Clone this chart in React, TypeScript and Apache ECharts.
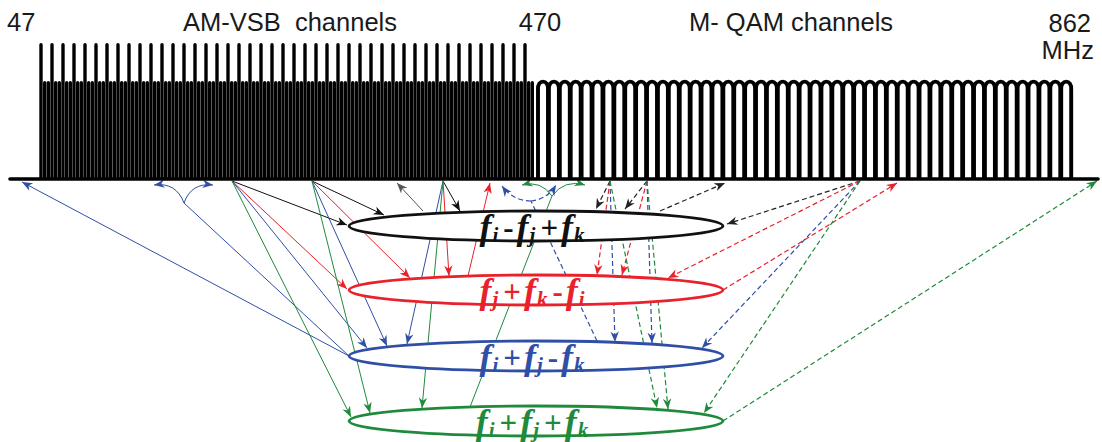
import React, { useEffect, useRef } from 'react';
import * as echarts from 'echarts';

// ---------- data (diagram coordinates, x: 0..1102, y: 0..442 from top) ----------
const AXIS_Y = 179;
const axisSpan = [10, 1098];

// AM-VSB channel carriers (tall video carrier, two shorter side carriers)
const amChannelX = [41, 52, 63, 74, 85, 96, 107, 118, 129, 140, 151, 162, 173, 184, 195, 206, 217, 228, 239, 250,
  261, 272, 283, 294, 305, 316, 327, 338, 349, 360, 371, 382, 393, 404, 415, 426, 437, 448, 459, 470,
  481, 492, 503, 514, 525];
const amTallTop = 43;
const amShortTop = 81;

// M-QAM channels
const qamChannelX = [543.0, 553.9, 564.8, 575.7, 586.6, 597.5, 608.4, 619.3, 630.2, 641.1, 652.0, 662.9, 673.8,
  684.7, 695.6, 706.5, 717.4, 728.3, 739.2, 750.1, 761.0, 771.9, 782.8, 793.7, 804.6, 815.5, 826.4, 837.3,
  848.2, 859.1, 870.0, 880.9, 891.8, 902.7, 913.6, 924.5, 935.4, 946.3, 957.2, 968.1, 979.0, 989.9, 1000.8,
  1011.7, 1022.6, 1033.5, 1044.4, 1055.3, 1066.2];
const qamTop = 80;

// product ellipses
const ellipseCenterX = 536;
const ellipseCenterY = [226, 290, 356, 421];
const ellipseRadius = [187, 15];
const ellipseTerms = [
  ['i', '-', 'j', '+', 'k'],
  ['j', '+', 'k', '-', 'i'],
  ['i', '+', 'j', '-', 'k'],
  ['i', '+', 'j', '+', 'k'],
];

// arrows: [x1, y1, x2, y2, curveness, arrowHead]
const blackSolid = [
  [232, 181, 347, 225, 0, 1],
  [312, 181, 384, 215, 0, 1],
  [443, 181, 460, 211, 0, 1],
];
const greySolid = [
  [423, 211, 397, 183, 0, 1],
];
const redSolid = [
  [232, 181, 347, 289, 0, 1],
  [312, 181, 410, 278, 0, 1],
  [443, 181, 449, 276, 0, 1],
  [468, 276, 490, 183, 0, 1],
];
const blueSolid = [
  [232, 181, 367, 348, 0, 1],
  [312, 181, 387, 346, 0, 1],
  [443, 181, 407, 344, 0, 1],
  [349, 356, 22, 182, 0, 1],
  [349, 356, 184, 203, 0, 0],
  [184, 203, 154, 185, -0.4, 1],
  [184, 203, 213, 185, 0.4, 1],
];
const greenSolid = [
  [232, 181, 351, 417, 0, 1],
  [312, 181, 370, 413, 0, 1],
  [443, 181, 422, 408, 0, 1],
  [470, 407, 552, 196, 0, 0],
  [552, 196, 522, 185, -0.35, 1],
  [552, 196, 585, 185, 0.35, 1],
];
const blackDashed = [
  [610, 181, 596, 209, 0, 1],
  [647, 181, 625, 209, 0, 1],
  [660, 211, 725, 183, 0, 1],
  [860, 181, 727, 224, 0, 1],
];
const redDashed = [
  [610, 181, 597, 275, 0, 1],
  [647, 181, 622, 275, 0, 1],
  [860, 181, 668, 278, 0, 1],
  [723, 290, 897, 183, 0, 1],
];
const blueDashed = [
  [610, 181, 615, 342, 0, 1],
  [647, 181, 652, 343, 0, 1],
  [860, 181, 702, 348, 0, 1],
  [597, 341, 531, 201, 0, 0],
  [531, 201, 502, 186, 0.25, 1],
  [531, 201, 556, 185, -0.25, 1],
];
const greenDashed = [
  [610, 181, 657, 408, 0, 1],
  [647, 181, 668, 409, 0, 1],
  [860, 181, 704, 413, 0, 1],
  [723, 421, 1097, 181, 0, 1],
];

// header labels
const headerLabels = ['47', 'AM-VSB  channels', '470', 'M- QAM channels', '862', 'MHz'];

// ---------- styling ----------
const BLACK = '#111111';
const RED = '#e8212b';
const BLUE = '#2f4fa6';
const GREEN = '#1f8a3b';
const ellipseColors = [BLACK, RED, BLUE, GREEN];

function arrowSeries(data: number[][], color: string, dashed: boolean, width: number) {
  return {
    type: 'custom',
    coordinateSystem: 'cartesian2d',
    clip: false,
    silent: true,
    z: 2,
    dimensions: ['x1', 'y1', 'x2', 'y2', 'curve', 'head'],
    encode: { x: [0, 2], y: [1, 3] },
    data,
    renderItem: (params: any, api: any) => {
      const a = api.coord([api.value(0), api.value(1)]);
      const b = api.coord([api.value(2), api.value(3)]);
      const c = Number(api.value(4));
      const head = Number(api.value(5));
      const lineStyle: any = { stroke: color, lineWidth: width, fill: 'none' };
      if (dashed) lineStyle.lineDash = [5, 3];
      const children: any[] = [];
      let from = a;
      if (c) {
        const cp = [(a[0] + b[0]) / 2 - (a[1] - b[1]) * c, (a[1] + b[1]) / 2 - (b[0] - a[0]) * c];
        children.push({
          type: 'bezierCurve',
          shape: { x1: a[0], y1: a[1], x2: b[0], y2: b[1], cpx1: cp[0], cpy1: cp[1] },
          style: lineStyle,
        });
        from = cp;
      } else {
        children.push({ type: 'line', shape: { x1: a[0], y1: a[1], x2: b[0], y2: b[1] }, style: lineStyle });
      }
      if (head) {
        const dx = b[0] - from[0];
        const dy = b[1] - from[1];
        const len = Math.hypot(dx, dy) || 1;
        const ux = dx / len, uy = dy / len;
        const nx = -uy, ny = ux;
        const L = 10.5, Wd = 4.2;
        children.push({
          type: 'polygon',
          shape: {
            points: [
              [b[0], b[1]],
              [b[0] - ux * L + nx * Wd, b[1] - uy * L + ny * Wd],
              [b[0] - ux * L * 0.7, b[1] - uy * L * 0.7],
              [b[0] - ux * L - nx * Wd, b[1] - uy * L - ny * Wd],
            ],
          },
          style: { fill: color },
        });
      }
      return { type: 'group', children };
    },
  };
}

function termRich(terms: string[]) {
  return `{f|f}{s|${terms[0]}}{o|${terms[1]}}{f|f}{s|${terms[2]}}{o|${terms[3]}}{f|f}{s|${terms[4]}}`;
}

const serif = 'Liberation Serif, Times New Roman, serif';
const sans = 'Liberation Sans, Arial, Helvetica, sans-serif';
const headFont = `25.5px ${sans}`;

const option: any = {
  animation: false,
  backgroundColor: '#ffffff',
  grid: { left: 0, right: 0, top: 0, bottom: 0 },
  xAxis: { type: 'value', min: 0, max: 1102, show: false },
  yAxis: { type: 'value', min: 0, max: 442, inverse: true, show: false },
  graphic: [
    { type: 'text', x: 7, y: 22, style: { text: headerLabels[0], font: headFont, fill: '#1a1a1a', align: 'left', verticalAlign: 'middle' } },
    { type: 'text', x: 183, y: 22, style: { text: headerLabels[1], font: headFont, fill: '#1a1a1a', align: 'left', verticalAlign: 'middle' } },
    { type: 'text', x: 540, y: 22, style: { text: headerLabels[2], font: headFont, fill: '#1a1a1a', align: 'center', verticalAlign: 'middle' } },
    { type: 'text', x: 689, y: 22, style: { text: headerLabels[3], font: headFont, fill: '#1a1a1a', align: 'left', verticalAlign: 'middle' } },
    { type: 'text', x: 1091, y: 23, style: { text: headerLabels[4], font: headFont, fill: '#1a1a1a', align: 'right', verticalAlign: 'middle' } },
    { type: 'text', x: 1094, y: 50, style: { text: headerLabels[5], font: headFont, fill: '#1a1a1a', align: 'right', verticalAlign: 'middle' } },
  ],
  series: [
    arrowSeries(greySolid, '#555555', false, 1),
    arrowSeries(blackSolid, BLACK, false, 1),
    arrowSeries(redSolid, RED, false, 1),
    arrowSeries(blueSolid, BLUE, false, 1),
    arrowSeries(greenSolid, GREEN, false, 1),
    arrowSeries(blackDashed, '#222222', true, 1.2),
    arrowSeries(redDashed, RED, true, 1.2),
    arrowSeries(blueDashed, BLUE, true, 1.2),
    arrowSeries(greenDashed, GREEN, true, 1.2),
    // AM-VSB carriers
    {
      type: 'custom',
      coordinateSystem: 'cartesian2d',
      clip: false,
      silent: true,
      z: 3,
      data: amChannelX.map((x) => [x, amTallTop, amShortTop]),
      renderItem: (params: any, api: any) => {
        const x = api.value(0);
        const base = api.coord([x, AXIS_Y]);
        const tall = api.coord([x, api.value(1)]);
        const short = api.coord([x, api.value(2)]);
        const w = 3.4;
        const offs = [3.7, 7.3];
        const children: any[] = [
          { type: 'rect', shape: { x: tall[0] - w / 2, y: tall[1], width: w, height: base[1] - tall[1], r: [1.7, 1.7, 0, 0] }, style: { fill: '#000' } },
        ];
        offs.forEach((o) => {
          const p = api.coord([x + o, api.value(2)]);
          children.push({ type: 'rect', shape: { x: p[0] - w / 2, y: short[1], width: w, height: base[1] - short[1], r: [1.7, 1.7, 0, 0] }, style: { fill: '#000' } });
        });
        return { type: 'group', children };
      },
    },
    // M-QAM channels
    {
      type: 'custom',
      coordinateSystem: 'cartesian2d',
      clip: false,
      silent: true,
      z: 3,
      data: qamChannelX.map((x) => [x, qamTop]),
      renderItem: (params: any, api: any) => {
        const x = api.value(0);
        const l = api.coord([x - 5.0, AXIS_Y]);
        const r = api.coord([x + 5.0, AXIS_Y]);
        const top = api.coord([x, api.value(1)])[1] + 1.5;
        const d = `M${l[0]},${l[1]} L${l[0]},${top + 8} C${l[0] - 1},${top - 2.5} ${r[0] + 1},${top - 2.5} ${r[0]},${top + 8} L${r[0]},${r[1]}`;
        return { type: 'path', shape: { pathData: d }, style: { stroke: '#000', lineWidth: 3.9, fill: 'none' } };
      },
    },
    // frequency axis line
    {
      type: 'custom',
      coordinateSystem: 'cartesian2d',
      clip: false,
      silent: true,
      z: 4,
      data: [[axisSpan[0], AXIS_Y, axisSpan[1]]],
      renderItem: (params: any, api: any) => {
        const a = api.coord([api.value(0), api.value(1)]);
        const b = api.coord([api.value(2), api.value(1)]);
        return { type: 'line', shape: { x1: a[0], y1: a[1], x2: b[0], y2: b[1] }, style: { stroke: '#000', lineWidth: 3.6, lineCap: 'round' } };
      },
    },
    // product ellipses
    {
      type: 'custom',
      coordinateSystem: 'cartesian2d',
      clip: false,
      silent: true,
      z: 5,
      data: ellipseCenterY.map((cy, i) => [ellipseCenterX, cy, i]),
      renderItem: (params: any, api: any) => {
        const i = Number(api.value(2));
        const c = api.coord([api.value(0), api.value(1)]);
        const s = api.size(ellipseRadius);
        const color = ellipseColors[i];
        const rich = {
          f: { fontFamily: serif, fontStyle: 'italic', fontWeight: 'bold', fontSize: 36, lineHeight: 36, fill: color, verticalAlign: 'middle', padding: [0, 1, 0, 0] },
          s: { fontFamily: serif, fontStyle: 'italic', fontWeight: 'bold', fontSize: 21, lineHeight: 21, fill: color, verticalAlign: 'bottom', padding: [0, 2, 0, 0] },
          o: { fontFamily: serif, fontWeight: 'bold', fontSize: 31, lineHeight: 36, fill: color, verticalAlign: 'middle', padding: [0, 3, 0, 3] },
        };
        return {
          type: 'group',
          children: [
            { type: 'ellipse', shape: { cx: c[0], cy: c[1], rx: s[0], ry: s[1] }, style: { fill: '#ffffff', stroke: color, lineWidth: 2.8 } },
            { type: 'text', x: c[0] - 3, y: c[1] + 1, style: { text: termRich(ellipseTerms[i]), rich, fill: color, align: 'center', verticalAlign: 'middle' } },
          ],
        };
      },
    },
  ],
};

export default function App() {
  const ref = useRef<HTMLDivElement>(null);
  useEffect(() => {
    document.body.style.margin = '0';
    const chart = echarts.init(ref.current as HTMLDivElement, null, { renderer: 'svg' });
    chart.setOption(option);
    return () => chart.dispose();
  }, []);
  return (
    <div
      ref={ref}
      style={{ width: 1102, height: 442, position: 'absolute', left: 0, top: 0, background: '#ffffff' }}
    />
  );
}
